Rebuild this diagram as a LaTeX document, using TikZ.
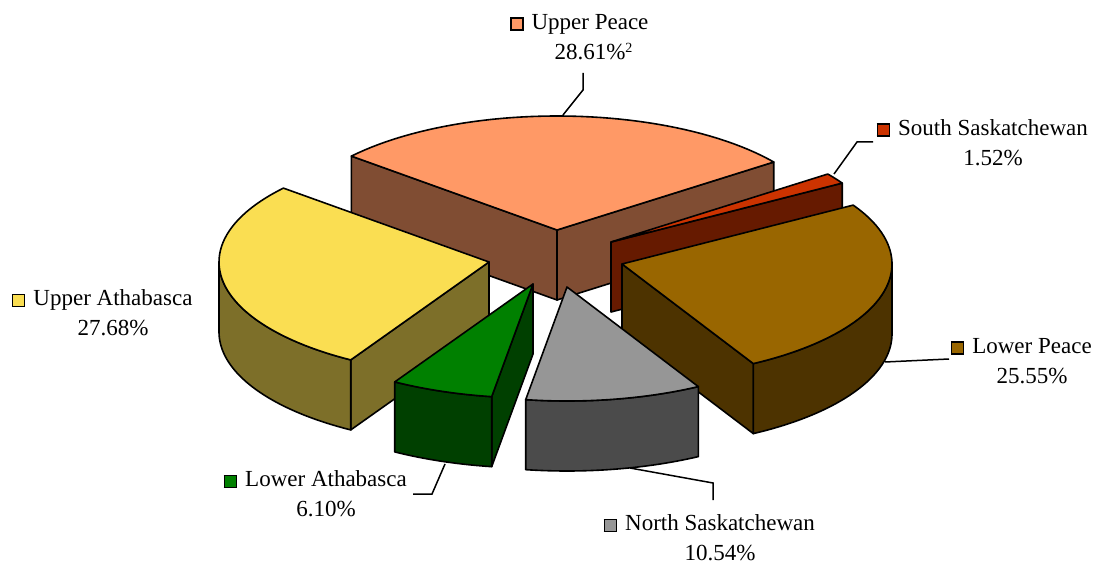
\documentclass[tikz,border=0pt]{standalone}
\usepackage{fontspec}
\setmainfont{Liberation Serif}
\definecolor{upTop}{RGB}{255,153,102}
\definecolor{upSide}{RGB}{128,77,51}
\definecolor{uaTop}{RGB}{250,222,82}
\definecolor{uaSide}{RGB}{125,111,41}
\definecolor{laTop}{RGB}{0,128,0}
\definecolor{laSide}{RGB}{0,64,0}
\definecolor{nsTop}{RGB}{150,150,150}
\definecolor{nsSide}{RGB}{75,75,75}
\definecolor{lpTop}{RGB}{153,102,0}
\definecolor{lpSide}{RGB}{77,51,0}
\definecolor{ssTop}{RGB}{204,51,0}
\definecolor{ssSide}{RGB}{102,26,0}
\tikzset{
  pieedge/.style={draw=black, line width=1.6pt, line join=round},
  leader/.style={draw=black, line width=1.5pt},
  lbl/.style={align=center, inner sep=0pt, font=\fontsize{23}{30}\selectfont}
}
\newcommand\keybox[1]{{\setlength{\fboxsep}{0pt}\setlength{\fboxrule}{1.5pt}\fcolorbox{black}{#1}{\rule{0pt}{10.5pt}\rule{10.5pt}{0pt}}}}
\newcommand\radface[4]{%
  \filldraw[pieedge, fill=#4] (#1,#2) -- ({#1+270*cos(#3)},{#2+114*sin(#3)}) -- ({#1+270*cos(#3)},{#2-70+114*sin(#3)}) -- (#1,#2-70) -- cycle;}
\newcommand\outerwall[5]{%
  \filldraw[pieedge, fill=#5] plot[domain=#3:#4, samples=40] ({#1+270*cos(\x)},{#2+114*sin(\x)}) -- plot[domain=#4:#3, samples=40] ({#1+270*cos(\x)},{#2-70+114*sin(\x)}) -- cycle;}
\newcommand\topface[5]{%
  \filldraw[pieedge, fill=#5] (#1,#2) -- plot[domain=#3:#4, samples=50] ({#1+270*cos(\x)},{#2+114*sin(\x)}) -- cycle;}
\begin{document}
\begin{tikzpicture}[x=1pt, y=1pt]
\useasboundingbox (0,0) rectangle (1099,565);
% Upper Peace
\radface{557}{335}{36.6}{upSide}
\radface{557}{335}{139.6}{upSide}
\topface{557}{335}{36.6}{139.6}{upTop}
% South Saskatchewan
\radface{611}{323}{31.1}{ssSide}
\topface{611}{323}{31.1}{36.6}{ssTop}
% Lower Peace
\radface{622}{301}{-60.9}{lpSide}
\outerwall{622}{301}{-60.9}{0}{lpSide}
\topface{622}{301}{-60.9}{31.1}{lpTop}
% Upper Athabasca
\radface{489}{303}{239.2}{uaSide}
\outerwall{489}{303}{180}{239.2}{uaSide}
\topface{489}{303}{139.6}{239.2}{uaTop}
% Lower Athabasca
\radface{533}{281}{261.2}{laSide}
\outerwall{533}{281}{239.2}{261.2}{laSide}
\topface{533}{281}{239.2}{261.2}{laTop}
% North Saskatchewan
\outerwall{567}{278}{261.2}{299.1}{nsSide}
\topface{567}{278}{261.2}{299.1}{nsTop}

% labels
\node[lbl] (lUP) at (590,528) {\llap{\keybox{upTop}\hspace{8pt}}Upper Peace\\28.61\%\rlap{\raisebox{7pt}{\fontsize{14}{14}\selectfont 2}}};
\node[lbl] (lSS) at (993,422.5) {\llap{\keybox{ssTop}\hspace{8pt}}South Saskatchewan\\1.52\%};
\node[lbl] (lLP) at (1032,204) {\llap{\keybox{lpTop}\hspace{8pt}}Lower Peace\\25.55\%};
\node[lbl] (lUA) at (113,252) {\llap{\keybox{uaTop}\hspace{8pt}}Upper Athabasca\\27.68\%};
\node[lbl] (lLA) at (326,71) {\llap{\keybox{laTop}\hspace{8pt}}Lower Athabasca\\6.10\%};
\node[lbl] (lNS) at (720,27) {\llap{\keybox{nsTop}\hspace{8pt}}North Saskatchewan\\10.54\%};

% leader lines
\coordinate (upA) at (583,492);
\coordinate (upB) at (583,475);
\coordinate (upC) at (563,450);
\draw[leader] (upA) -- (upB) -- (upC);
\coordinate (ssA) at (873,423);
\coordinate (ssB) at (857,423);
\coordinate (ssC) at (834,391);
\draw[leader] (ssA) -- (ssB) -- (ssC);
\coordinate (lpA) at (949,206);
\coordinate (lpB) at (885,203);
\draw[leader] (lpA) -- (lpB);
\coordinate (laA) at (413,71);
\coordinate (laB) at (432,71);
\coordinate (laC) at (445,101);
\draw[leader] (laA) -- (laB) -- (laC);
\coordinate (nsA) at (713,65);
\coordinate (nsB) at (713,82);
\coordinate (nsC) at (630,97);
\draw[leader] (nsA) -- (nsB) -- (nsC);
\end{tikzpicture}
\end{document}
